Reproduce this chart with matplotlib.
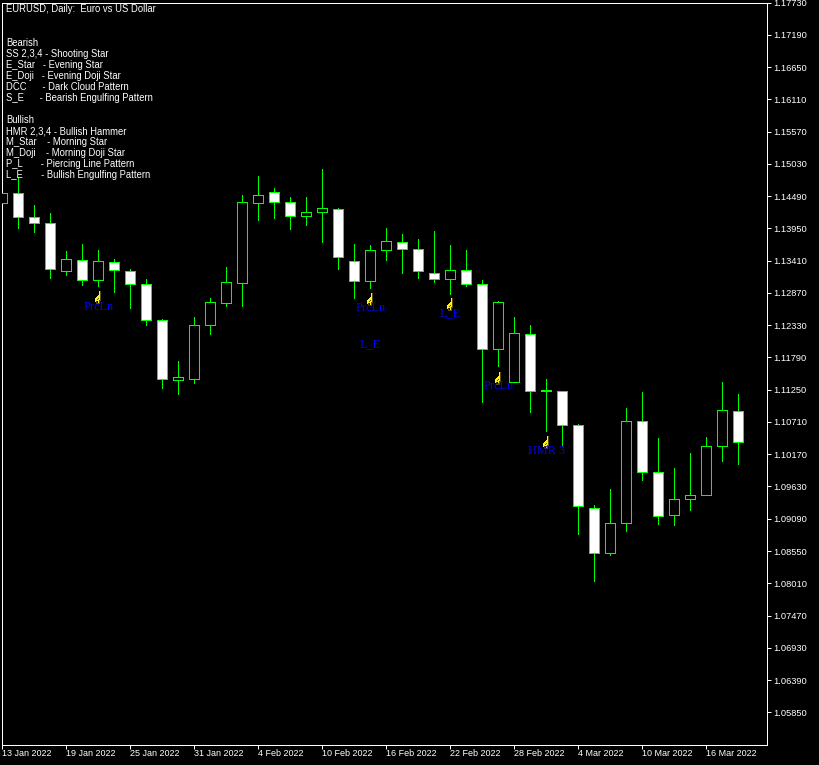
import numpy as np
import matplotlib
matplotlib.use("Agg")
import matplotlib.pyplot as plt
from matplotlib.offsetbox import OffsetImage, AnnotationBbox

# ---- data -----------------------------------------------------------------
high = [1.14537,1.14810,1.14341,1.14207,1.13571,1.13688,1.13588,1.13437,1.13270,1.13098,
        1.12433,1.11730,1.12462,1.12780,1.13299,1.14503,1.14821,1.14621,1.14470,1.14470,
        1.14944,1.14286,1.13683,1.13672,1.13951,1.13856,1.13767,1.13906,1.13667,1.13588,
        1.13081,1.12735,1.12462,1.12333,1.11429,1.11223,1.10676,1.09315,1.09583,1.10944,
        1.11207,1.10437,1.09935,1.10186,1.10453,1.11374,1.11178]
low = [1.14380,1.13961,1.13894,1.13124,1.13170,1.13002,1.12986,1.12890,1.12622,1.12338,
       1.11278,1.11183,1.11367,1.12187,1.12656,1.12656,1.14095,1.14129,1.13940,1.14011,
       1.13727,1.13275,1.12790,1.12957,1.13426,1.13208,1.13124,1.13058,1.12857,1.12991,
       1.11049,1.11652,1.11374,1.10882,1.10559,1.10330,1.08840,1.08053,1.08479,1.08890,
       1.09744,1.09007,1.08991,1.09242,1.09483,1.10062,1.10012]
open_ = [1.14380,1.14537,1.14135,1.14035,1.13242,1.13416,1.13091,1.13382,1.13232,1.13014,
         1.12412,1.11407,1.11424,1.12328,1.12706,1.13031,1.14370,1.14554,1.14386,1.14152,
         1.14219,1.14269,1.13399,1.13064,1.13583,1.13717,1.13600,1.13198,1.13098,1.13248,
         1.13014,1.11926,1.11374,1.12177,1.11240,1.11223,1.10654,1.09265,1.08512,1.09014,
         1.10721,1.09868,1.09148,1.09416,1.09483,1.10303,1.10889]
close = [1.14537,1.14135,1.14035,1.13265,1.13432,1.13091,1.13399,1.13248,1.13014,1.12412,
         1.11424,1.11458,1.12328,1.12713,1.13047,1.14386,1.14503,1.14386,1.14152,1.14219,
         1.14286,1.13466,1.13064,1.13583,1.13734,1.13600,1.13232,1.13098,1.13248,1.13014,
         1.11926,1.12713,1.12194,1.11223,1.11223,1.10654,1.09299,1.08512,1.09014,1.10721,
         1.09868,1.09131,1.09416,1.09483,1.10303,1.10905,1.10370]

date_labels = ["13 Jan 2022","19 Jan 2022","25 Jan 2022","31 Jan 2022","4 Feb 2022","10 Feb 2022",
               "16 Feb 2022","22 Feb 2022","28 Feb 2022","4 Mar 2022","10 Mar 2022","16 Mar 2022"]
date_index = [0,4,8,12,16,20,24,28,32,36,40,44]
price_ticks = [1.17730,1.17190,1.16650,1.16110,1.15570,1.15030,1.14490,1.13950,1.13410,1.12870,
               1.12330,1.11790,1.11250,1.10710,1.10170,1.09630,1.09090,1.08550,1.08010,1.07470,
               1.06930,1.06390,1.05850]

icon_index = [6,23,28,31,34]
icon_price = [1.12793,1.12756,1.12668,1.11432,1.10370]
signal_index = [6,23,23,28,31,34]
signal_price = [1.12639,1.12612,1.12015,1.12529,1.11307,1.10224]
signal_text = ["PrcLn","PrcLn","L_E","L_E","PrcLn","HMR 3"]

title_text = "EURUSD, Daily:  Euro vs US Dollar"
legend_lines = ["Bearish","SS 2,3,4 - Shooting Star","E_Star   - Evening Star","E_Doji   - Evening Doji Star",
                "DCC      - Dark Cloud Pattern","S_E      - Bearish Engulfing Pattern","",
                "Bullish","HMR 2,3,4 - Bullish Hammer","M_Star    - Morning Star","M_Doji    - Morning Doji Star",
                "P_L       - Piercing Line Pattern","L_E       - Bullish Engulfing Pattern"]

# ---- figure ---------------------------------------------------------------
W, H = 820, 765
px = 72 / 100
FS = 6.85
plt.rcParams["font.family"] = ["Liberation Sans"]
fig = plt.figure(figsize=(W/100, H/100), dpi=100, facecolor="black")
ax = fig.add_axes([2.5/W, 1-744.5/H, 765/W, 742/H], facecolor="black")
ax.set_xlim(0, 765/16)
ax.set_ylim(1.05312, 1.17730)

GREEN = "#00ff00"
idx = np.arange(len(open_))
o, c, h, l = map(np.array, (open_, close, high, low))
ax.vlines(idx, l, h, color=GREEN, lw=px, antialiased=False, zorder=2)
bear = c <= o
bottoms = np.minimum(o, c)
heights = np.abs(c - o)
for mask, fill in ((bear, "white"), (~bear, "black")):
    ax.bar(idx[mask], heights[mask], bottom=bottoms[mask], width=0.625, facecolor=fill,
           edgecolor=GREEN, linewidth=px, antialiased=False, zorder=3)

for s in ax.spines.values():
    s.set_color("white"); s.set_linewidth(px); s.set_antialiased(False)
ax.yaxis.tick_right()
ax.set_yticks(price_ticks, [f"{v:.5f}" for v in price_ticks])
ax.set_xticks(date_index, date_labels)
ax.tick_params(axis="y", colors="white", length=4*px, width=px, pad=2*px, labelsize=6.7)
ax.tick_params(axis="x", colors="white", length=4*px, width=px, pad=1*px, labelsize=6.5)
for t in ax.get_xticklabels():
    t.set_ha("left")

# title + legend
ax.text(6.5/W, 1-9.5/H, title_text, transform=fig.transFigure, color="white", fontsize=FS, va="center", zorder=6)
for i, line in enumerate(legend_lines):
    if line:
        ax.text(6.5/W, 1-(43+11*i)/H, line, transform=fig.transFigure, color="white", fontsize=FS, va="center", zorder=6)

# signals
Y, K, D = (1,0.95,0.1,1), (0.35,0.3,0,1), (0,0,0,0)
shape = ["....YK","....YK","....YK","....YK","...YYK","..YYYK",".YYYYK","YYYKYK","YYKYYK","YYYYKK","YK.YK.",".K.YK.",".KKKK."]
cmap = {"Y":Y,"K":K,".":D}
icon = np.array([[cmap[ch] for ch in row] for row in shape])
for k, p in zip(icon_index, icon_price):
    im = OffsetImage(icon, zoom=0.72, interpolation="nearest", resample=False)
    ax.add_artist(AnnotationBbox(im, (k, p), xycoords="data", frameon=False, pad=0, zorder=5))
for k, p, s in zip(signal_index, signal_price, signal_text):
    ax.text(k, p, s, color="#0000ff", fontsize=8.8, family="Liberation Serif", ha="center", va="center", zorder=5)

fig.savefig("out.png", dpi=100, facecolor="black")
